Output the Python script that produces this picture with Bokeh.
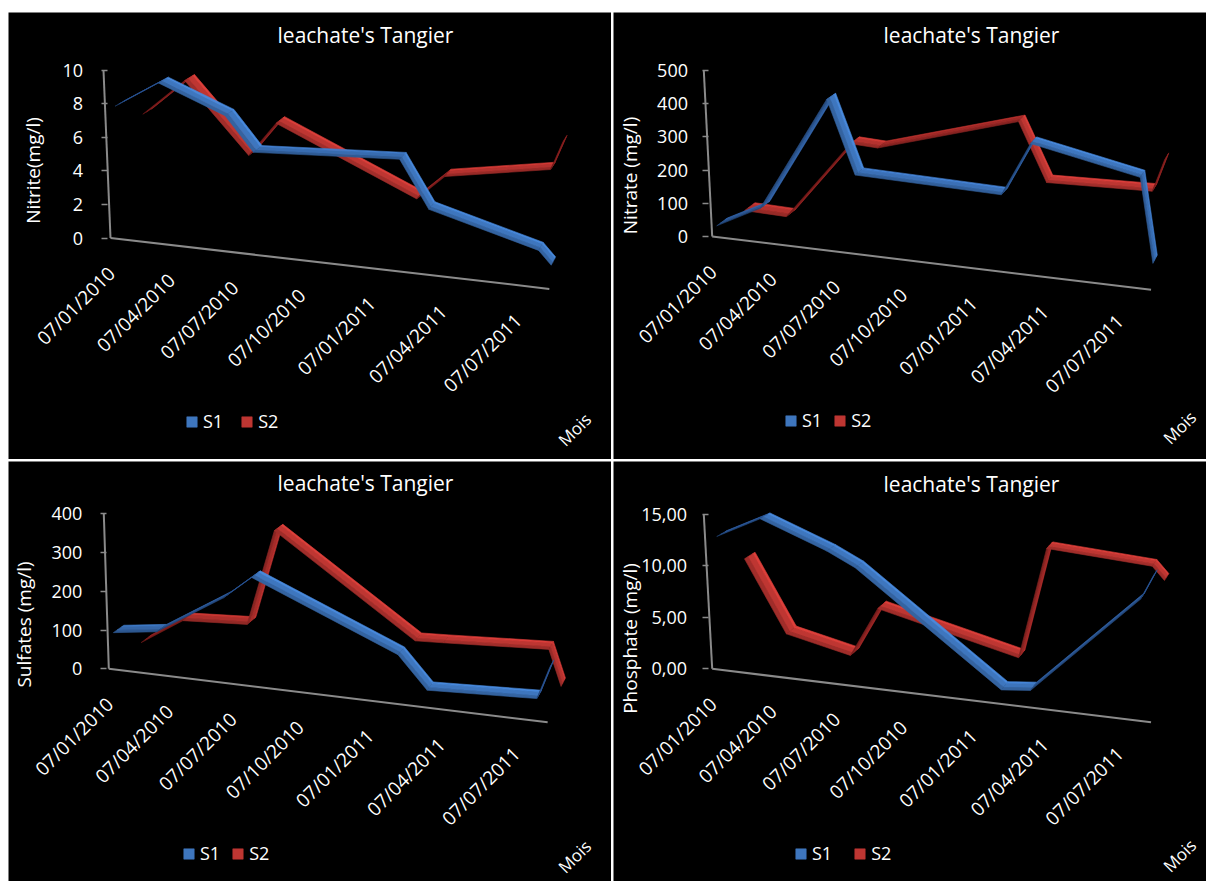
import numpy as np
from datetime import date

from bokeh.plotting import figure
from bokeh.models import (Range1d, LinearAxis, FixedTicker, Legend, LegendItem,
                          ColumnDataSource)
from bokeh.layouts import column, row
from bokeh.embed import file_html
from bokeh.resources import INLINE
from bokeh.core.properties import value

# ---------------------------------------------------------------- data
sample_dates = ["2010-01-07", "2010-03-14", "2010-06-19", "2010-07-29",
                "2011-02-09", "2011-03-18", "2011-07-30", "2011-08-14"]

tick_dates = ["2010-01-07", "2010-04-07", "2010-07-07", "2010-10-07",
              "2011-01-07", "2011-04-07", "2011-07-07"]
tick_labels = ["07/01/2010", "07/04/2010", "07/07/2010", "07/10/2010",
               "07/01/2011", "07/04/2011", "07/07/2011"]

series_names = ["S1", "S2"]

nitrite_s1 = [7.7, 9.4, 7.9, 5.9, 6.5, 3.7, 2.0, 1.2]
nitrite_s2 = [6.2, 8.6, 4.4, 6.6, 2.9, 4.5, 5.7, 7.5]

nitrate_s1 = [22, 91, 446, 227, 221, 387, 325, 69]
nitrate_s2 = [5, 2, 256, 253, 390, 209, 222, 325]

sulfate_s1 = [85, 101, 210, 272, 118, 35, 48, 132]
sulfate_s2 = [5, 78, 89, 351, 100, 104, 121, 25]

phosphate_s1 = [12.6, 14.85, 12.5, 11.2, 1.0, 1.3, 11.5, 13.9]
phosphate_s2 = [8.7, 1.6, 0.2, 5.3, 2.05, 13.5, 13.0, 11.7]

nitrite_ticks = [0, 2, 4, 6, 8, 10]
nitrate_ticks = [0, 100, 200, 300, 400, 500]
sulfate_ticks = [0, 100, 200, 300, 400]
phosphate_ticks = [0, 5, 10, 15]
phosphate_tick_labels = ["0,00", "5,00", "10,00", "15,00"]

chart_title = "leachate's Tangier"
x_title = "Mois"

# ---------------------------------------------------------------- style
FONT = "Open Sans"
WHITE = "#ffffff"
AXIS_GREY = "#8a8a8a"
BLUE = ((34, 70, 124), (62, 118, 190))     # dark face, lit face
RED = ((112, 24, 24), (190, 54, 50))

# bands across the ribbon width: (start, end, brightness)
RIBBON_BANDS = [(0.0, 0.35, 0.84), (0.35, 0.8, 1.0), (0.8, 1.0, 1.16)]

# 3-D line chart geometry (pixels)
A_LIN, A_QUAD = 0.651, 1.72e-4        # floor-edge position per day
VP_OFFSET = (751.0, -565.0)           # vanishing point of the depth axis
RIBBON_DEPTH = 0.014
SERIES_DEPTH = {"S1": 0.006, "S2": 0.043}

T0 = date.fromisoformat(sample_dates[0])


def day_offsets(ds):
    return np.array([(date.fromisoformat(d) - T0).days for d in ds], dtype=float)


def mix(pair, f, gain):
    dark, light = pair
    rgb = [min(255, int(round((d + (l - d) * f) * gain))) for d, l in zip(dark, light)]
    return "#%02x%02x%02x" % tuple(rgb)


def make_chart(cfg):
    W, H = cfg["size"]
    ox, oy = cfg["origin"]
    k, S = cfg["slope"], cfg["scale"]
    vpx, vpy = ox + VP_OFFSET[0], oy + VP_OFFSET[1]

    def screen(t, v, z):
        t = np.asarray(t, float)
        v = np.asarray(v, float)
        z = np.asarray(z, float)
        fx = ox + A_LIN * t + A_QUAD * t * t
        fy = oy + k * (fx - ox) - S * v
        return vpx + (1 - z) * (fx - vpx), vpy + (1 - z) * (fy - vpy)

    def to_data(sx, sy):
        return (np.asarray(sx) - ox) / A_LIN, (oy - np.asarray(sy)) / S

    p = figure(width=W, height=H,
               x_range=Range1d(-ox / A_LIN, (W - ox) / A_LIN),
               y_range=Range1d((oy - H) / S, oy / S),
               x_axis_type=None, y_axis_type=None,
               toolbar_location=None, output_backend="svg",
               background_fill_color="black", border_fill_color="black",
               outline_line_color=None, min_border=0)

    t_days = day_offsets(sample_dates)
    ticks = cfg["ticks"]
    vmax = ticks[-1]

    # floor front edge and leaning value-axis line
    bx, by = to_data(*screen([0, t_days[-1]], [0, 0], [0, 0]))
    p.line(bx, by, line_color=AXIS_GREY, line_width=2)
    lean = cfg["lean"]
    p.line([-lean / A_LIN, 0], [vmax, 0], line_color=AXIS_GREY, line_width=2)

    # ribbons: back series first
    rends = {}
    best = {}
    for name, vals, pal in [("S2", cfg["s2"], RED), ("S1", cfg["s1"], BLUE)]:
        z0 = SERIES_DEPTH[name]
        xs, ys, fills = [], [], []
        top_lit, top_idx = -1.0, 0
        for i in range(len(t_days) - 1):
            tt = [t_days[i], t_days[i + 1], t_days[i + 1], t_days[i]]
            vv = [vals[i], vals[i + 1], vals[i + 1], vals[i]]
            zf, zb = z0, z0 + RIBBON_DEPTH
            sx, sy = screen(tt, vv, [zf, zf, zb, zb])
            seg = (sx[1] - sx[0], sy[1] - sy[0])
            dep = (sx[3] - sx[0], sy[3] - sy[0])
            sin = abs(seg[0] * dep[1] - seg[1] * dep[0]) / (np.hypot(*seg) * np.hypot(*dep) + 1e-9)
            f = min(1.0, 1.2 * sin)
            for a, b, gain in RIBBON_BANDS:
                za = z0 + a * RIBBON_DEPTH
                zb2 = z0 + b * RIBBON_DEPTH
                bxs, bys = screen(tt, vv, [za, za, zb2, zb2])
                dx, dy = to_data(bxs, bys)
                if gain == 1.0 and f > top_lit:
                    top_lit, top_idx = f, len(xs)
                xs.append(list(dx))
                ys.append(list(dy))
                fills.append(mix(pal, f, gain))
        src = ColumnDataSource(dict(xs=xs, ys=ys, fill=fills))
        rends[name] = p.patches("xs", "ys", source=src, fill_color="fill",
                                line_color="fill", line_width=0.6)
        best[name] = top_idx

    # value axis
    ax = LinearAxis(fixed_location=-lean / 2 / A_LIN,
                    ticker=FixedTicker(ticks=ticks),
                    bounds=cfg["label_bounds"],
                    axis_line_color=None,
                    major_tick_line_color=AXIS_GREY, major_tick_line_width=1.5,
                    major_tick_out=6, major_tick_in=0,
                    minor_tick_line_color=None,
                    major_label_text_color=WHITE,
                    major_label_text_font=FONT,
                    major_label_text_font_size="18px",
                    major_label_standoff=cfg["label_standoff"],
                    axis_label=cfg["y_title"],
                    axis_label_text_color=WHITE,
                    axis_label_text_font=FONT,
                    axis_label_text_font_size="19px",
                    axis_label_text_font_style="normal",
                    axis_label_standoff=cfg["title_standoff"])
    if cfg.get("tick_text"):
        ax.major_label_overrides = dict(zip(ticks, cfg["tick_text"]))
    p.add_layout(ax, "left")

    # date labels along the slanted floor edge
    n = len(tick_dates)
    tx, ty = screen(day_offsets(tick_dates), np.zeros(n), np.zeros(n))
    lx, ly = to_data(tx + 1.0, ty + 32.0)
    p.text(lx, ly, text=tick_labels, angle=np.pi / 4,
           text_font=value(FONT), text_font_size="19px", text_color=WHITE,
           text_align="right", text_baseline="middle")

    # chart title and category-axis title
    hx, hy = to_data([cfg["title_at"][0]], [cfg["title_at"][1]])
    p.text(hx, hy, text=[chart_title], text_font=value(FONT), text_font_size="21px",
           text_color=WHITE, text_align="center", text_baseline="middle")
    mx, my = to_data([cfg["mois_at"][0]], [cfg["mois_at"][1]])
    p.text(mx, my, text=[x_title], angle=np.pi / 4, text_font=value(FONT),
           text_font_size="17px", text_color=WHITE, text_align="center",
           text_baseline="middle")

    legend = Legend(items=[LegendItem(label=nm, renderers=[rends[nm]], index=best[nm])
                           for nm in series_names],
                    orientation="horizontal", location=cfg["legend_at"],
                    glyph_width=13, glyph_height=13, label_standoff=5,
                    spacing=cfg["legend_spacing"], padding=0, margin=0,
                    label_height=13, label_text_color=WHITE,
                    label_text_font=FONT, label_text_font_size="18px",
                    border_line_color=None, background_fill_alpha=0)
    p.add_layout(legend)
    return p


panels = [
    dict(size=(603, 447), origin=(102.0, 225.5), slope=0.116, scale=16.77, lean=7,
         s1=nitrite_s1, s2=nitrite_s2, ticks=nitrite_ticks, tick_text=None,
         y_title="Nitrite(mg/l)", label_bounds=(-1.94, 10), label_standoff=18,
         title_standoff=14, title_at=(357, 22), mois_at=(566, 417),
         legend_at=(177, 26), legend_spacing=17),
    dict(size=(593, 447), origin=(98.7, 224.0), slope=0.1216, scale=0.332, lean=8.4,
         s1=nitrate_s1, s2=nitrate_s2, ticks=nitrate_ticks, tick_text=None,
         y_title="Nitrate (mg/l)", label_bounds=(-132, 500), label_standoff=14,
         title_standoff=12, title_at=(358, 22), mois_at=(566, 415),
         legend_at=(171, 27), legend_spacing=11),
    dict(size=(603, 420), origin=(100.3, 207.3), slope=0.122, scale=0.3875, lean=5,
         s1=sulfate_s1, s2=sulfate_s2, ticks=sulfate_ticks, tick_text=None,
         y_title="Sulfates (mg/l)", label_bounds=(-172, 400), label_standoff=18,
         title_standoff=12, title_at=(357, 21.5), mois_at=(566, 395),
         legend_at=(174, 16), legend_spacing=11),
    dict(size=(593, 420), origin=(98.7, 207.3), slope=0.122, scale=10.29, lean=8.4,
         s1=phosphate_s1, s2=phosphate_s2, ticks=phosphate_ticks,
         tick_text=phosphate_tick_labels,
         y_title="Phosphate (mg/l)", label_bounds=(-9.12, 15), label_standoff=15,
         title_standoff=-4, title_at=(358, 22.5), mois_at=(566, 394),
         legend_at=(181, 16), legend_spacing=21),
]

figs = [make_chart(c) for c in panels]
page = column(row(figs[0], figs[1], spacing=2),
              row(figs[2], figs[3], spacing=2),
              spacing=2, margin=(12, 0, 0, 8))

open("out.html", "w").write(file_html(page, INLINE, title="leachate's Tangier"))
